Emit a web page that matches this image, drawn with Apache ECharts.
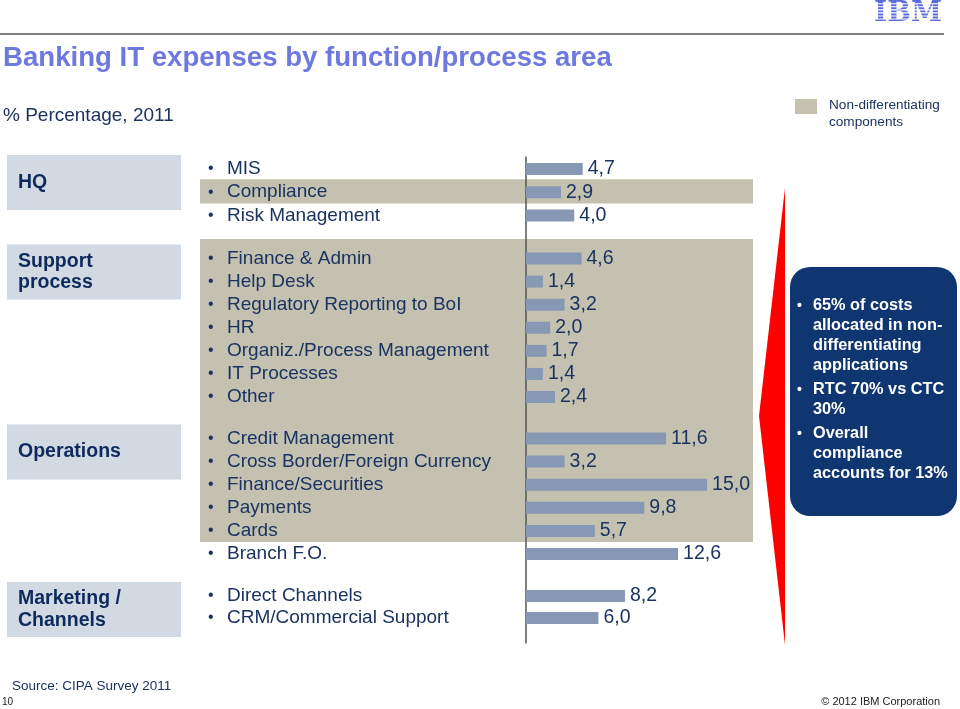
<!DOCTYPE html>
<html><head><meta charset="utf-8">
<script src="https://cdn.jsdelivr.net/npm/echarts@6/dist/echarts.min.js"></script>
<style>html,body{margin:0;padding:0;background:#fff}#c{width:960px;height:709px}</style>
</head><body><div id="c"></div>
<script>
// ---- data ----
const groupNames = ['HQ', 'Support\nprocess', 'Operations', 'Marketing /\nChannels'];
const hqItems = ['MIS', 'Compliance', 'Risk Management'];
const hqValues = [4.7, 2.9, 4.0];
const supportItems = ['Finance & Admin', 'Help Desk', 'Regulatory Reporting to BoI', 'HR', 'Organiz./Process Management', 'IT Processes', 'Other'];
const supportValues = [4.6, 1.4, 3.2, 2.0, 1.7, 1.4, 2.4];
const opsItems = ['Credit Management', 'Cross Border/Foreign Currency', 'Finance/Securities', 'Payments', 'Cards', 'Branch F.O.'];
const opsValues = [11.6, 3.2, 15.0, 9.8, 5.7, 12.6];
const mktItems = ['Direct Channels', 'CRM/Commercial Support'];
const mktValues = [8.2, 6.0];
const nonDifferentiating = ['Compliance', 'Finance & Admin', 'Help Desk', 'Regulatory Reporting to BoI', 'HR', 'Organiz./Process Management', 'IT Processes', 'Other', 'Credit Management', 'Cross Border/Foreign Currency', 'Finance/Securities', 'Payments', 'Cards'];
const calloutBullets = [
  ['65% of costs', 'allocated in non-', 'differentiating', 'applications'],
  ['RTC 70% vs CTC', '30%'],
  ['Overall', 'compliance', 'accounts for 13%']
];
const titleText = 'Banking IT expenses by function/process area';
const subtitleText = '% Percentage, 2011';
const legendText = ['Non-differentiating', 'components'];
const sourceText = 'Source: CIPA Survey 2011';

// ---- layout ----
const FONT = '"Liberation Sans", Arial, sans-serif';
const NAVY = '#1B3360';
const BAR = '#8698B3';
const BEIGE = '#C4C1B1';
const AXIS_X = 526;
const PX_PER_UNIT = 12.07;
const XMAX = 20;
const groupItems = [hqItems, supportItems, opsItems, mktItems];
const groupValues = [hqValues, supportValues, opsValues, mktValues];
// first/last row centre per group
const groupRows = [[169, 215.5], [258.5, 397], [438.5, 554], [596, 618]];

const grids = [], xAxes = [], yAxes = [], series = [];
groupItems.forEach((items, g) => {
  const n = items.length;
  const s = (groupRows[g][1] - groupRows[g][0]) / (n - 1);
  grids.push({ left: AXIS_X, top: groupRows[g][0] - s / 2, height: n * s, width: PX_PER_UNIT * XMAX, containLabel: false });
  xAxes.push({ gridIndex: g, type: 'value', min: 0, max: XMAX, show: false });
  yAxes.push({
    gridIndex: g, type: 'category', inverse: true, data: items,
    axisLine: { show: false }, axisTick: { show: false }, splitLine: { show: false },
    axisLabel: {
      interval: 0, align: 'left', margin: AXIS_X - 208,
      formatter: v => '{b|•}{t|' + v + '}',
      rich: {
        b: { width: 19, fontSize: 16, color: NAVY, fontFamily: FONT },
        t: { fontSize: 19, color: NAVY, fontFamily: FONT }
      }
    }
  });
  series.push({
    type: 'bar', xAxisIndex: g, yAxisIndex: g, data: groupValues[g],
    barWidth: 12, itemStyle: { color: BAR }, z: 5,
    label: {
      show: true, position: 'right', distance: 5, fontSize: 19.5, color: NAVY, fontFamily: FONT,
      formatter: p => p.value.toFixed(1).replace('.', ',')
    }
  });
});
// axis-line grid
grids.push({ left: AXIS_X, top: 157, height: 486, width: 10 });
xAxes.push({ gridIndex: 4, type: 'value', show: false });
yAxes.push({ gridIndex: 4, type: 'value', axisLine: { show: true, lineStyle: { color: '#555', width: 1.5 } },
  axisTick: { show: false }, axisLabel: { show: false }, splitLine: { show: false } });

const chart = echarts.init(document.getElementById('c'), null, { renderer: 'canvas' });
chart.setOption({
  backgroundColor: '#fff', animation: false,
  grid: grids, xAxis: xAxes, yAxis: yAxes, series: series
});

// ---- decorations computed from axes ----
const graphic = [];
function txt(x, y, text, size, color, opts) {
  return { type: 'text', z: 20, style: Object.assign({ x: x, y: y, text: text, fill: color,
    font: (opts && opts.bold ? 'bold ' : '') + size + 'px ' + FONT, textVerticalAlign: 'middle', textAlign: 'left' }, opts && opts.style) };
}
// beige bands for non-differentiating items (runs across groups)
const flat = [];
groupItems.forEach((items, g) => {
  const n = items.length;
  const s = (groupRows[g][1] - groupRows[g][0]) / (n - 1);
  items.forEach((it, i) => flat.push({ name: it, g: g, first: i === 0, y: chart.convertToPixel({ yAxisIndex: g }, it), s: s }));
});
let run = null;
flat.forEach((r, i) => {
  const nd = nonDifferentiating.indexOf(r.name) >= 0;
  if (nd && !run) run = { top: r.y - r.s / 2 - (r.first ? 8 : 1.5), bottom: r.y + r.s / 2 };
  if (nd && run) run.bottom = r.y + r.s / 2 - 0.5;
  if ((!nd || i === flat.length - 1) && run) {
    graphic.push({ type: 'rect', z: -10, shape: { x: 200, y: run.top, width: 553, height: run.bottom - run.top }, style: { fill: BEIGE } });
    run = null;
  }
});
// group boxes
groupItems.forEach((items, g) => {
  const y0 = chart.convertToPixel({ yAxisIndex: g }, items[0]) - 14;
  graphic.push({ type: 'rect', z: -10, shape: { x: 7, y: y0, width: 174, height: 55 }, style: { fill: '#D1D9E3' } });
  const lines = groupNames[g].split('\n');
  lines.forEach((ln, k) => {
    graphic.push(txt(18, y0 + 27.5 + (k - (lines.length - 1) / 2) * 21.5, ln, 19.5, '#0E2A5C', { bold: true }));
  });
});
// title, rule, subtitle
graphic.push({ type: 'line', z: 20, shape: { x1: 0, y1: 34, x2: 944, y2: 34 }, style: { stroke: '#555', lineWidth: 1.5 } });
graphic.push(txt(3, 58, titleText, 27.6, '#6E79DF', { bold: true }));
graphic.push(txt(3, 116, subtitleText, 19, NAVY));
// IBM logo
graphic.push({ type: 'text', z: 20, style: { x: 908, y: 14, text: 'IBM', fill: '#5A6BDA', font: 'bold 28px "DejaVu Serif", serif', textAlign: 'center', textVerticalAlign: 'middle' } });
for (let k = 0; k < 8; k++) {
  graphic.push({ type: 'rect', z: 21, shape: { x: 870, y: 3.2 + k * 3.05, width: 76, height: 1.1 }, style: { fill: '#fff' } });
}
// legend
graphic.push({ type: 'rect', z: 20, shape: { x: 795, y: 99, width: 22, height: 15 }, style: { fill: BEIGE } });
graphic.push(txt(829, 105, legendText[0], 13.6, NAVY));
graphic.push(txt(829, 122, legendText[1], 13.6, NAVY));
// red wedge + callout
graphic.push({ type: 'polygon', z: 15, shape: { points: [[785, 188], [759, 416], [785, 645]] }, style: { fill: '#FF0000' } });
graphic.push({ type: 'rect', z: 15, shape: { x: 790, y: 267, width: 167, height: 249, r: 20 }, style: { fill: '#0F3671' } });
let cy = 306;
calloutBullets.forEach((b) => {
  b.forEach((ln, k) => {
    if (k === 0) graphic.push(txt(797, cy, '•', 14, '#fff', { bold: true }));
    graphic.push(txt(813, cy, ln, 16.3, '#fff', { bold: true }));
    cy += 20;
  });
  cy += 4;
});
// footer
graphic.push(txt(12, 686, sourceText, 13.5, NAVY));
graphic.push(txt(2, 702, '10', 10, '#222'));
graphic.push(txt(940, 702, '© 2012 IBM Corporation', 11, '#222', { style: { textAlign: 'right' } }));

chart.setOption({ graphic: graphic });
</script></body></html>
